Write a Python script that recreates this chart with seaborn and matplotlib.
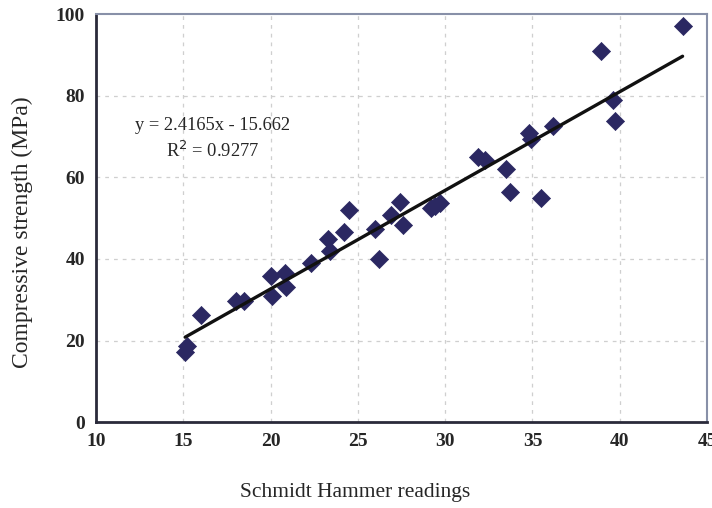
import numpy as np
import pandas as pd
import matplotlib
matplotlib.use("Agg")
import matplotlib.pyplot as plt
import seaborn as sns
from matplotlib.ticker import MultipleLocator

# Data
hammer = [15.1, 15.2, 16.0, 18.0, 18.5, 20.0, 20.1, 20.8, 20.9, 22.3, 23.3, 23.4,
          24.2, 24.5, 26.0, 26.2, 26.9, 27.4, 27.6, 29.2, 29.4, 29.7, 31.9, 32.3,
          33.5, 33.7, 34.8, 34.9, 35.5, 36.2, 38.9, 39.6, 39.7, 43.6]
strength = [17.3, 18.6, 26.3, 29.7, 29.7, 35.8, 31.0, 36.6, 33.2, 38.9, 45.0, 42.0,
            46.5, 52.0, 47.3, 40.0, 50.7, 54.0, 48.3, 52.5, 53.0, 53.7, 65.0, 64.2,
            62.0, 56.4, 71.0, 69.3, 55.0, 72.5, 91.0, 79.0, 73.8, 97.0]
slope = 2.4165
intercept = -15.662
r2 = 0.9277
x_ticks = [10, 15, 20, 25, 30, 35, 40, 45]
y_ticks = [0, 20, 40, 60, 80, 100]

sns.set_style("white")
plt.rcParams['font.family'] = ['Liberation Serif', 'DejaVu Serif']

df = pd.DataFrame({"x": hammer, "y": strength})

fig = plt.figure(figsize=(7.12, 5.08), dpi=100)
ax = fig.add_axes([0.135, 0.169, 0.858, 0.803])

# grid
for gx in x_ticks[1:-1]:
    ax.axvline(gx, color="#cfcfcf", lw=0.9, ls=(0, (3, 4)), zorder=0)
for gy in y_ticks[1:-1]:
    ax.axhline(gy, color="#cfcfcf", lw=0.9, ls=(0, (3, 4)), zorder=0)

sns.scatterplot(data=df, x="x", y="y", ax=ax, marker="D", s=85,
                color="#2b2862", edgecolor="#2b2862", linewidth=0.5, zorder=3)

xl = np.array([min(hammer), max(hammer)])
ax.plot(xl, slope * xl + intercept, color="#111111", lw=2.4, zorder=4)

ax.text(0.19, 0.728, f"y = {slope}x - {abs(intercept)}", transform=ax.transAxes,
        ha="center", va="center", fontsize=13.3)
ax.text(0.19, 0.665, f"R$^2$ = {r2}", transform=ax.transAxes, ha="center",
        va="center", fontsize=13.3)

ax.set_xlim(10, 45)
ax.set_ylim(0, 100)
ax.set_xticks(x_ticks)
ax.set_yticks(y_ticks)
ax.xaxis.set_minor_locator(MultipleLocator(1))
ax.yaxis.set_minor_locator(MultipleLocator(4))
ax.tick_params(axis="both", which="major", direction="in", length=4, width=1,
               labelsize=14, color="#333333", pad=8)
ax.tick_params(axis="both", which="minor", direction="in", length=2.5, width=0.8,
               color="#555555")
for lab in ax.get_xticklabels() + ax.get_yticklabels():
    lab.set_fontweight("bold")

ax.set_xlabel("Schmidt Hammer readings", fontsize=15.5)
ax.set_ylabel("Compressive strength (MPa)", fontsize=17)
ax.xaxis.set_label_coords(0.424, -0.15)
ax.yaxis.set_label_coords(-0.104, 0.466)

for side in ["left", "bottom"]:
    ax.spines[side].set_color("#2a2a3a")
    ax.spines[side].set_linewidth(2.0)
for side in ["top", "right"]:
    ax.spines[side].set_color("#8890a8")
    ax.spines[side].set_linewidth(1.5)

fig.savefig("out.png", dpi=100)
